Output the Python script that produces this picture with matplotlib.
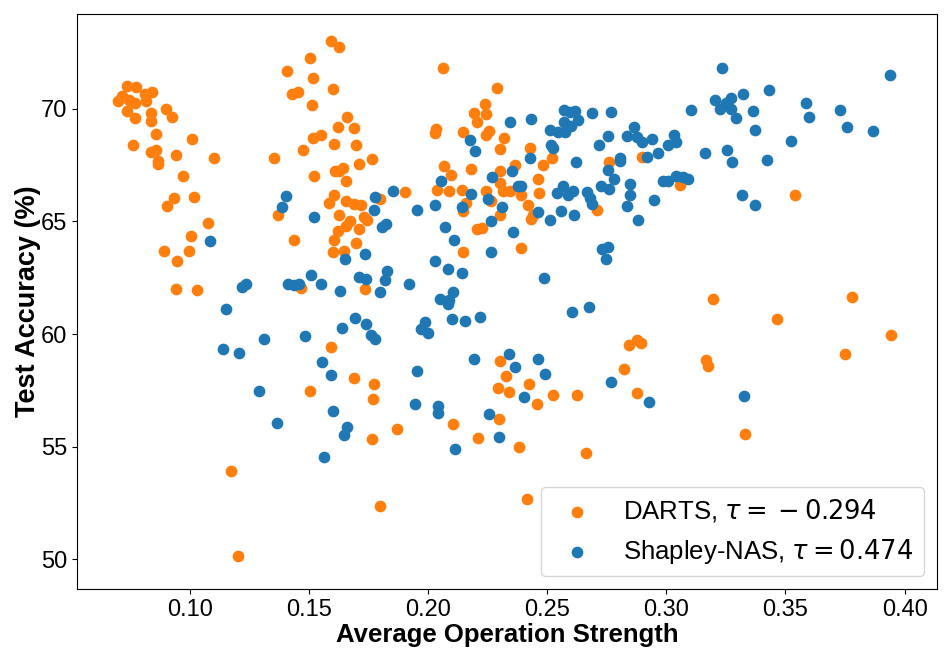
import matplotlib
matplotlib.use("Agg")
import numpy as np
import matplotlib.pyplot as plt

plt.rcParams['font.family'] = ['Liberation Sans', 'DejaVu Sans']

# DARTS: average operation strength vs test accuracy
darts_x = [
    0.0737, 0.0775, 0.0716, 0.0814, 0.0842, 0.0698, 0.0744, 0.0772, 0.0817, 0.0737,
    0.0769, 0.0839, 0.0839, 0.0901, 0.0927, 0.0857, 0.0761, 0.0838, 0.0859, 0.0868,
    0.0868, 0.0943, 0.1008, 0.1102, 0.0973, 0.0933, 0.0905, 0.1019,
    0.1591, 0.1625, 0.1505, 0.1407, 0.1518, 0.1602, 0.1429, 0.1454, 0.1513, 0.1661,
    0.1622, 0.1690, 0.1516, 0.1552, 0.1604, 0.1699, 0.1477, 0.1355, 0.1765, 0.1709,
    0.1611, 0.1625, 0.1643, 0.1657, 0.1521, 0.1607, 0.1583, 0.1654, 0.1688, 0.1720,
    0.1369, 0.1625, 0.1674, 0.1657, 0.1732, 0.1744, 0.1076, 0.1621, 0.1711, 0.1004,
    0.1439, 0.1607, 0.1698, 0.0892, 0.0997, 0.0947, 0.1602, 0.1646, 0.0944, 0.1031,
    0.1468, 0.1737, 0.1593, 0.1688, 0.1772, 0.1506, 0.1768,
    0.1766, 0.1173, 0.1201, 0.1800,
    0.2061, 0.2290, 0.2240, 0.2191, 0.2242, 0.2205, 0.2032, 0.2029, 0.2145, 0.2255,
    0.2244, 0.2318, 0.2303, 0.2426, 0.2520, 0.2760, 0.2068, 0.2181, 0.2363, 0.2483,
    0.2096, 0.2303, 0.2462, 0.2303, 0.1904, 0.2037, 0.2088, 0.2141, 0.2244, 0.2314,
    0.2345, 0.2390, 0.2465, 0.1797, 0.2159, 0.2263, 0.2418, 0.2709, 0.2146, 0.2303,
    0.2432, 0.2440,
    0.2146, 0.2390, 0.2205, 0.2227, 0.2843, 0.2876, 0.2892, 0.2822, 0.2303, 0.2327,
    0.2424, 0.2294, 0.2338, 0.2525, 0.2626, 0.2876,
    0.2299, 0.2104, 0.1870, 0.2209, 0.2380, 0.2661, 0.2415, 0.2458,
    0.2900, 0.3057, 0.3540,
    0.3194, 0.3781, 0.3466, 0.3942, 0.3750, 0.3167, 0.3177, 0.3332,
]
darts_y = [
    71.01, 70.98, 70.59, 70.67, 70.77, 70.34, 70.40, 70.25, 70.37, 69.90,
    69.59, 69.82, 69.45, 69.99, 69.66, 68.89, 68.40, 68.08, 68.18, 67.70,
    67.56, 67.94, 68.67, 67.82, 67.01, 66.04, 65.69, 66.09,
    73.01, 72.77, 72.28, 71.69, 71.39, 70.89, 70.65, 70.76, 70.18, 69.66,
    69.19, 69.17, 68.71, 68.86, 68.46, 68.40, 68.16, 67.81, 67.78, 67.54,
    67.23, 67.26, 67.38, 66.81, 67.01, 66.16, 65.81, 65.92, 65.76, 65.73,
    65.29, 65.29, 65.04, 64.81, 65.19, 65.07, 64.92, 64.59, 64.67, 64.34,
    64.19, 64.18, 64.06, 63.70, 63.68, 63.24, 63.63, 63.70, 62.01, 61.94,
    62.06, 61.99, 59.42, 58.06, 57.76, 57.47, 57.11,
    55.33, 53.90, 50.15, 52.37,
    71.84, 70.93, 70.21, 69.81, 69.78, 69.42, 69.11, 68.95, 68.96, 69.04,
    68.84, 68.71, 68.24, 68.25, 67.84, 67.66, 67.47, 67.35, 67.50, 67.50,
    67.08, 67.23, 66.90, 66.70, 66.33, 66.40, 66.34, 66.39, 66.34, 66.37,
    66.37, 66.16, 66.25, 66.00, 65.82, 65.90, 65.75, 65.51, 65.45, 65.29,
    65.11, 65.29,
    63.66, 63.81, 64.67, 64.71, 59.51, 59.73, 59.61, 58.43, 58.80, 58.13,
    57.78, 57.60, 57.42, 57.27, 57.27, 57.36,
    56.22, 56.00, 55.78, 55.38, 54.99, 54.73, 52.67, 56.89,
    67.87, 66.61, 66.18,
    61.56, 61.64, 60.68, 59.96, 59.10, 58.84, 58.59, 55.54,
]

# Shapley-NAS
shap_x = [
    0.1406, 0.1386, 0.1776,
    0.1772, 0.1520, 0.1086, 0.1650, 0.1735, 0.1219, 0.1237, 0.1411, 0.1437, 0.1457,
    0.1509, 0.1550, 0.1630, 0.1710, 0.1741, 0.1151, 0.1310, 0.1484, 0.1638, 0.1692,
    0.1741, 0.1760, 0.1776, 0.1138, 0.1206, 0.1554, 0.1593, 0.1291,
    0.1366, 0.1601, 0.1660, 0.1646, 0.1563,
    0.2342, 0.2433, 0.2569, 0.2594, 0.2616, 0.2688, 0.2767, 0.2569, 0.2601, 0.2628,
    0.2511, 0.2545, 0.2576, 0.2176, 0.2197, 0.2517, 0.2523, 0.2430, 0.2619, 0.2717,
    0.2756, 0.2837, 0.2865, 0.2806, 0.2806, 0.2755, 0.2780, 0.2353, 0.2268, 0.2054,
    0.1853, 0.2181, 0.2376, 0.2390, 0.2566, 0.2542, 0.2586, 0.2608, 0.2667, 0.2680,
    0.2689, 0.2727, 0.2760, 0.2846, 0.2846, 0.2834, 0.2029, 0.1955, 0.2251, 0.2309,
    0.2143, 0.2460, 0.2559, 0.2613, 0.2875,
    0.1807, 0.1825, 0.2070, 0.2264, 0.2510, 0.2357, 0.2107, 0.2265, 0.2030, 0.2082,
    0.2142, 0.1829, 0.1818, 0.1800, 0.1919, 0.2485, 0.2106, 0.2049, 0.2088, 0.2082,
    0.2605, 0.2675, 0.1988, 0.1972, 0.2001, 0.2099, 0.2156, 0.2218, 0.2732, 0.2756,
    0.2749, 0.2883, 0.2195, 0.1953, 0.2339, 0.2367, 0.2461, 0.2489, 0.2769, 0.2404,
    0.1946,
    0.2044, 0.2041, 0.2258, 0.2300, 0.2113, 0.2928,
    0.3234, 0.3939, 0.3203, 0.3272, 0.3251, 0.3224, 0.3271, 0.3321, 0.3430, 0.3103,
    0.3363, 0.3293, 0.3372, 0.3586, 0.3599, 0.3731, 0.3760, 0.3869, 0.3523, 0.2896,
    0.2940, 0.3034, 0.3006, 0.3039, 0.2918, 0.2966, 0.3163, 0.3255, 0.3274, 0.3423,
    0.2985, 0.3009, 0.3041, 0.3072, 0.3090, 0.2950, 0.3317, 0.3372,
    0.3326,
]
shap_y = [
    66.13, 65.66, 66.08,
    65.51, 65.21, 64.13, 63.35, 63.54, 62.10, 62.24, 62.24, 62.16, 62.24,
    62.61, 62.21, 61.92, 62.53, 62.43, 61.11, 59.79, 59.91, 60.28, 60.71,
    60.43, 59.97, 59.79, 59.35, 59.17, 58.77, 58.18, 57.47,
    56.06, 56.58, 55.88, 55.51, 54.55,
    69.44, 69.54, 69.96, 69.88, 69.92, 69.84, 69.88, 69.44, 69.26, 69.50,
    69.08, 68.99, 68.96, 68.62, 68.13, 68.40, 68.27, 67.82, 67.66, 68.40,
    68.79, 68.80, 69.19, 67.82, 67.70, 67.30, 66.89, 67.23, 66.99, 66.79,
    66.36, 66.22, 66.56, 66.59, 66.59, 66.27, 66.19, 66.37, 66.30, 66.04,
    65.78, 66.56, 66.46, 66.67, 66.18, 65.70, 65.75, 65.52, 66.00, 65.66,
    65.63, 65.41, 65.47, 65.29, 68.77,
    64.77, 64.89, 64.74, 65.04, 65.05, 64.52, 64.16, 63.66, 63.26, 62.90,
    62.70, 62.80, 62.40, 61.88, 62.21, 62.48, 61.88, 61.56, 61.51, 61.32,
    60.96, 61.20, 60.55, 60.22, 60.03, 60.67, 60.56, 60.76, 63.78, 63.88,
    63.35, 65.07, 58.88, 58.37, 59.10, 58.55, 58.88, 58.22, 57.88, 57.21,
    56.89,
    56.80, 56.50, 56.43, 55.44, 54.88, 56.99,
    71.82, 71.50, 70.41, 70.50, 70.25, 69.99, 70.01, 70.67, 70.83, 69.96,
    69.90, 69.60, 69.08, 70.28, 69.66, 69.97, 69.20, 69.02, 68.56, 68.52,
    68.67, 68.84, 68.40, 68.52, 67.85, 68.03, 68.03, 68.18, 67.64, 67.73,
    66.81, 66.81, 67.01, 66.99, 66.89, 65.94, 66.18, 65.73,
    57.24,
]

darts_label = r'DARTS, $\tau=\:-\:0.294$'
shap_label = r'Shapley-NAS, $\tau=0.474$'

fig = plt.figure(figsize=(9.51, 6.55), dpi=100)
ax = fig.add_axes([0.081, 0.1008, 0.904, 0.8778])

ax.scatter(darts_x, darts_y, s=55, color='#ff7f0e', label=darts_label)
ax.scatter(shap_x, shap_y, s=55, color='#1f77b4', label=shap_label)

ax.set_xlim(0.0527, 0.4135)
ax.set_ylim(48.67, 74.22)
ax.set_xticks([0.10, 0.15, 0.20, 0.25, 0.30, 0.35, 0.40])
ax.set_yticks([50, 55, 60, 65, 70])
ax.tick_params(labelsize=17)

ax.set_xlabel('Average Operation Strength', fontsize=18.5, fontweight='bold', labelpad=2)
ax.set_ylabel('Test Accuracy (%)', fontsize=19.5, fontweight='bold', labelpad=0)

ax.legend(loc='lower right', fontsize=18.5)

fig.savefig('out.png', dpi=100)
